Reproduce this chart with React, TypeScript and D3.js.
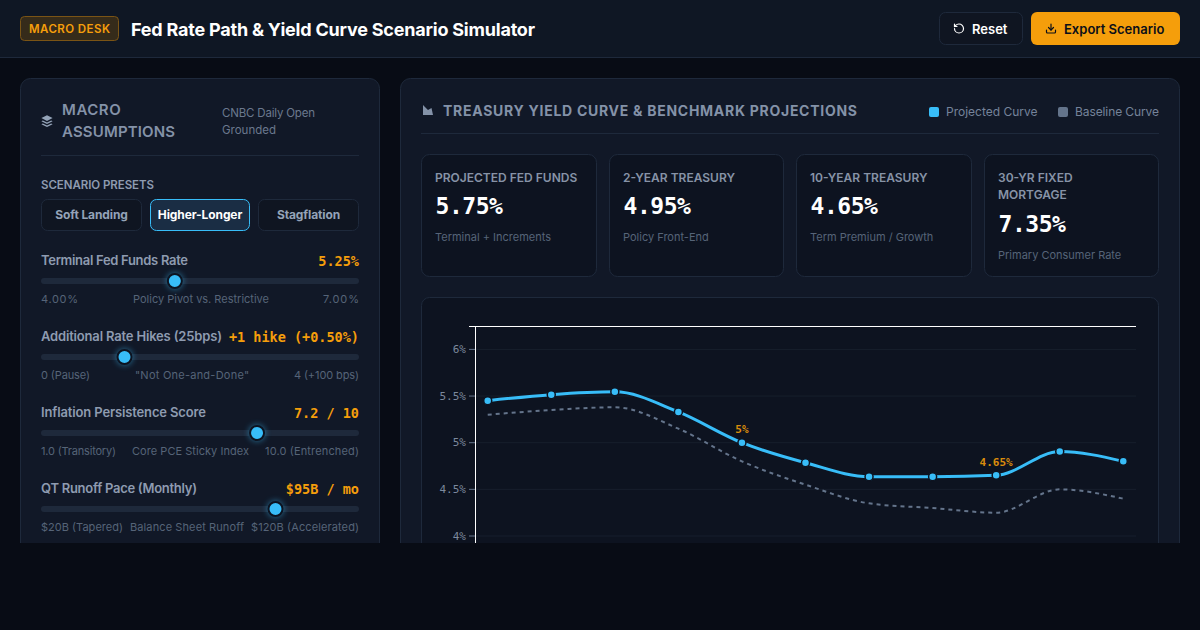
import React from "react";
import * as d3 from "d3";

const categories = ["1M", "3M", "6M", "1Y", "2Y", "3Y", "5Y", "7Y", "10Y", "20Y", "30Y"];
const projected = [5.45, 5.515, 5.545, 5.33, 5.0, 4.785, 4.635, 4.635, 4.65, 4.905, 4.8];
const baseline = [5.3, 5.35, 5.38, 5.15, 4.8, 4.55, 4.35, 4.3, 4.25, 4.5, 4.4];
const yTicks = [4, 4.5, 5, 5.5, 6];
const annotated = ["2Y", "10Y"];

const presets = ["Soft Landing", "Higher-Longer", "Stagflation"];
const activePreset = "Higher-Longer";

const sliderLabels = ["Terminal Fed Funds Rate", "Additional Rate Hikes (25bps)", "Inflation Persistence Score", "QT Runoff Pace (Monthly)"];
const sliderReadouts = ["5.25%", "+1 hike (+0.50%)", "7.2 / 10", "$95B / mo"];
const sliderValues = [5.25, 1, 7.2, 95];
const sliderMins = [4, 0, 1, 20];
const sliderMaxs = [7, 4, 10, 120];
const sliderLeft = ["4.00%", "0 (Pause)", "1.0 (Transitory)", "$20B (Tapered)"];
const sliderMid = ["Policy Pivot vs. Restrictive", "\"Not One-and-Done\"", "Core PCE Sticky Index", "Balance Sheet Runoff"];
const sliderRight = ["7.00%", "4 (+100 bps)", "10.0 (Entrenched)", "$120B (Accelerated)"];

const kpiTitles = [["PROJECTED FED FUNDS"], ["2-YEAR TREASURY"], ["10-YEAR TREASURY"], ["30-YR FIXED", "MORTGAGE"]];
const kpiValues = ["5.75%", "4.95%", "4.65%", "7.35%"];
const kpiNotes = ["Terminal + Increments", "Policy Front-End", "Term Premium / Growth", "Primary Consumer Rate"];

// Measured text extents of the layout (px), not data.
const labelWidths = [147, 181, 165, 156];
const leftWidths = [37, 49, 75, 82];
const midStart = [133, 135, 132, 130];
const midWidths = [136, 114, 117, 114];
const rightStart = [323, 294, 265, 251];
const rightWidths = [36, 65, 94, 108];

const SANS = "Inter, 'Noto Sans', sans-serif";
const MONO = "'DejaVu Sans Mono', 'Liberation Mono', monospace";
const BLUE = "#38bdf8";
const AMBER = "#f59e0b";
const BORDER = "#1e293b";
const PANEL = "#111827";
const INSET = "#0d1320";

export default function App() {
  const x = d3.scalePoint<string>().domain(categories).range([475, 1136]).padding(0.2);
  const y = d3.scaleLinear().domain([4, 6]).range([536, 349.4]);
  const line = d3.line<number>().x((_, i) => x(categories[i]) as number).y((d) => y(d)).curve(d3.curveMonotoneX);
  const kpiX = [421.5, 609.5, 796.5, 984.5];
  const kpiW = [175, 174, 175, 174];
  return (
    <svg width={1200} height={630} viewBox="0 0 1200 630" style={{ position: "fixed", left: 0, top: 0, display: "block" }} fontFamily={SANS}>
      <defs>
        <clipPath id="main"><rect x={0} y={0} width={1200} height={543} /></clipPath>
        <filter id="glow" x="-100%" y="-100%" width="300%" height="300%"><feGaussianBlur stdDeviation="3" /></filter>
      </defs>
      <rect width={1200} height={630} fill="#080c15" />
      <g clipPath="url(#main)">
        <rect x={20.5} y={78.5} width={359} height={520} rx={10} fill={PANEL} stroke={BORDER} />
        <rect x={400.5} y={78.5} width={779} height={520} rx={10} fill={PANEL} stroke={BORDER} />

        {/* left header */}
        <g fill="#94a3b8">
          <path d="M47 115.2l5.6 2.9-5.6 2.9-5.6-2.9z" />
          <path d="M42.8 120.4l4.2 2.2 4.2-2.2 1.4.8-5.6 2.9-5.6-2.9z" />
          <path d="M42.8 123.4l4.2 2.2 4.2-2.2 1.4.8-5.6 2.9-5.6-2.9z" />
        </g>
        <text x={62} y={115} fontSize={15} fontWeight={600} letterSpacing={0.55} fill="#8492a8">MACRO</text>
        <text x={62} y={137} fontSize={15} fontWeight={600} textLength={113} fill="#8492a8">ASSUMPTIONS</text>
        <text x={222} y={117} fontSize={11.5} textLength={93} fill="#6b788e">CNBC Daily Open</text>
        <text x={222} y={134} fontSize={11.5} textLength={54} fill="#6b788e">Grounded</text>
        <line x1={41} x2={359} y1={155.5} y2={155.5} stroke={BORDER} />
        <text x={41} y={189} fontSize={11.5} fontWeight={600} textLength={113} fill="#8e9bb0">SCENARIO PRESETS</text>
        {presets.map((p, i) => {
          const bx = [41.5, 150.5, 258.5][i];
          const bw = [100, 99, 100][i];
          const on = p === activePreset;
          return (
            <g key={p}>
              <rect x={bx} y={199.5} width={bw} height={31} rx={6} fill={on ? "#1a2d44" : "#0f1521"} stroke={on ? BLUE : BORDER} />
              <text x={bx + bw / 2} y={219} textAnchor="middle" fontSize={12} fontWeight={700} letterSpacing={-0.1} fill={on ? "#ffffff" : "#94a3b8"}>{p}</text>
            </g>
          );
        })}

        {/* sliders */}
        {sliderLabels.map((label, i) => {
          const top = 76 * i;
          const s = d3.scaleLinear().domain([sliderMins[i], sliderMaxs[i]]).range([49, 351]);
          const cx = s(sliderValues[i]);
          return (
            <g key={label}>
              <text x={41} y={265 + top} fontSize={13} fontWeight={600} textLength={labelWidths[i]} fill="#8e9bb0">{label}</text>
              <text x={359} y={266 + top} textAnchor="end" fontSize={13.5} fontWeight={700} fontFamily={MONO} fill={AMBER}>{sliderReadouts[i]}</text>
              <rect x={41} y={278 + top} width={318} height={6} rx={3} fill={BORDER} />
              <circle cx={cx} cy={281 + top} r={8} fill={BLUE} opacity={0.55} filter="url(#glow)" />
              <circle cx={cx} cy={281 + top} r={7} fill={BLUE} stroke="#0d1320" strokeWidth={2} />
              <text x={41} y={303 + top} fontSize={11} textLength={leftWidths[i]} fill="#566478">{sliderLeft[i]}</text>
              <text x={midStart[i]} y={303 + top} fontSize={11} textLength={midWidths[i]} fill="#566478">{sliderMid[i]}</text>
              <text x={rightStart[i]} y={303 + top} fontSize={11} textLength={rightWidths[i]} fill="#566478">{sliderRight[i]}</text>
            </g>
          );
        })}

        {/* right header */}
        <path d="M423 105L428 110L431.5 108L433 115H423Z" fill="#8492a8" />
        <text x={443} y={116} fontSize={14} fontWeight={700} textLength={414} fill="#8492a8">TREASURY YIELD CURVE &amp; BENCHMARK PROJECTIONS</text>
        <rect x={929} y={107} width={10} height={10} rx={2} fill={BLUE} />
        <text x={946} y={116} fontSize={12} fill="#75839a">Projected Curve</text>
        <rect x={1058} y={107} width={10} height={10} rx={2} fill="#64748b" />
        <text x={1075} y={116} fontSize={12} textLength={84} fill="#75839a">Baseline Curve</text>
        <line x1={421} x2={1159} y1={133.5} y2={133.5} stroke={BORDER} />

        {/* KPI cards */}
        {kpiTitles.map((lines, i) => {
          const shift = (lines.length - 1) * 17.5;
          return (
            <g key={lines[0]}>
              <rect x={kpiX[i]} y={154.5} width={kpiW[i]} height={122} rx={8} fill={INSET} stroke={BORDER} />
              {lines.map((t, k) => (
                <text key={t} x={kpiX[i] + 13.5} y={182 + k * 17} fontSize={12} fontWeight={600} fill="#8793a7">{t}</text>
              ))}
              <text x={kpiX[i] + 14} y={214 + shift} fontSize={23} fontWeight={700} fontFamily={MONO} letterSpacing={-0.45} fill="#ffffff">{kpiValues[i]}</text>
              <text x={kpiX[i] + 13.5} y={241 + shift} fontSize={11} fill="#566478">{kpiNotes[i]}</text>
            </g>
          );
        })}

        {/* chart card */}
        <rect x={421.5} y={297.5} width={737} height={300} rx={8} fill={INSET} stroke={BORDER} />
        {yTicks.map((t) => (
          <g key={t}>
            <line x1={476} x2={1136} y1={y(t)} y2={y(t)} stroke="#171f2c" />
            <line x1={469} x2={476} y1={y(t)} y2={y(t)} stroke="#64748b" />
            <text x={466} y={y(t) + 3.5} textAnchor="end" fontSize={11} fontFamily={MONO} fill="#7c899d">{`${t}%`}</text>
          </g>
        ))}
        <line x1={469} x2={1136} y1={326.5} y2={326.5} stroke="#ffffff" />
        <line x1={475.5} x2={475.5} y1={326} y2={543} stroke="#ffffff" />
        <path d={line(baseline) as string} fill="none" stroke="#64748b" strokeWidth={2} strokeDasharray="4 4" />
        <path d={line(projected) as string} fill="none" stroke={BLUE} strokeWidth={3} />
        {projected.map((v, i) => (
          <circle key={categories[i]} cx={x(categories[i])} cy={y(v)} r={4} fill={BLUE} stroke={INSET} strokeWidth={1.5} />
        ))}
        {projected.map((v, i) =>
          annotated.includes(categories[i]) ? (
            <text key={categories[i]} x={x(categories[i])} y={y(v) - 9.5} textAnchor="middle" fontSize={11} fontFamily={MONO} fontWeight={700} fill="#d98c0c">{`${v}%`}</text>
          ) : null
        )}
      </g>

      {/* top bar */}
      <rect width={1200} height={57} fill="#0f1724" />
      <line x1={0} x2={1200} y1={57.5} y2={57.5} stroke={BORDER} />
      <rect x={20.5} y={16.5} width={98} height={24} rx={4} fill="#352b1a" stroke="#7a5415" />
      <text x={29} y={33} fontSize={11.5} fontWeight={600} textLength={81} fill={AMBER}>MACRO DESK</text>
      <text x={131} y={36} fontSize={18} fontWeight={700} textLength={404} fill="#ffffff">Fed Rate Path &amp; Yield Curve Scenario Simulator</text>
      <rect x={939.5} y={12.5} width={83} height={32} rx={6} fill="#0f1521" stroke={BORDER} />
      <g transform="translate(953,22.5) scale(0.5)" fill="none" stroke="#fff" strokeWidth={2.4} strokeLinecap="round" strokeLinejoin="round">
        <path d="M3 12a9 9 0 1 0 9-9 9.75 9.75 0 0 0-6.74 2.74L3 8" />
        <path d="M3 3v5h5" />
      </g>
      <text x={972} y={34} fontSize={13} fontWeight={600} fill="#ffffff">Reset</text>
      <rect x={1031} y={12} width={149} height={33} rx={6} fill={AMBER} />
      <g transform="translate(1045,22.5) scale(0.5)" fill="none" stroke="#0b0f19" strokeWidth={2.4} strokeLinecap="round" strokeLinejoin="round">
        <path d="M21 15v4a2 2 0 0 1-2 2H5a2 2 0 0 1-2-2v-4" />
        <path d="M7 10l5 5 5-5" />
        <path d="M12 15V3" />
      </g>
      <text x={1064} y={34} fontSize={13} fontWeight={600} fill="#0b0f19">Export Scenario</text>
    </svg>
  );
}
